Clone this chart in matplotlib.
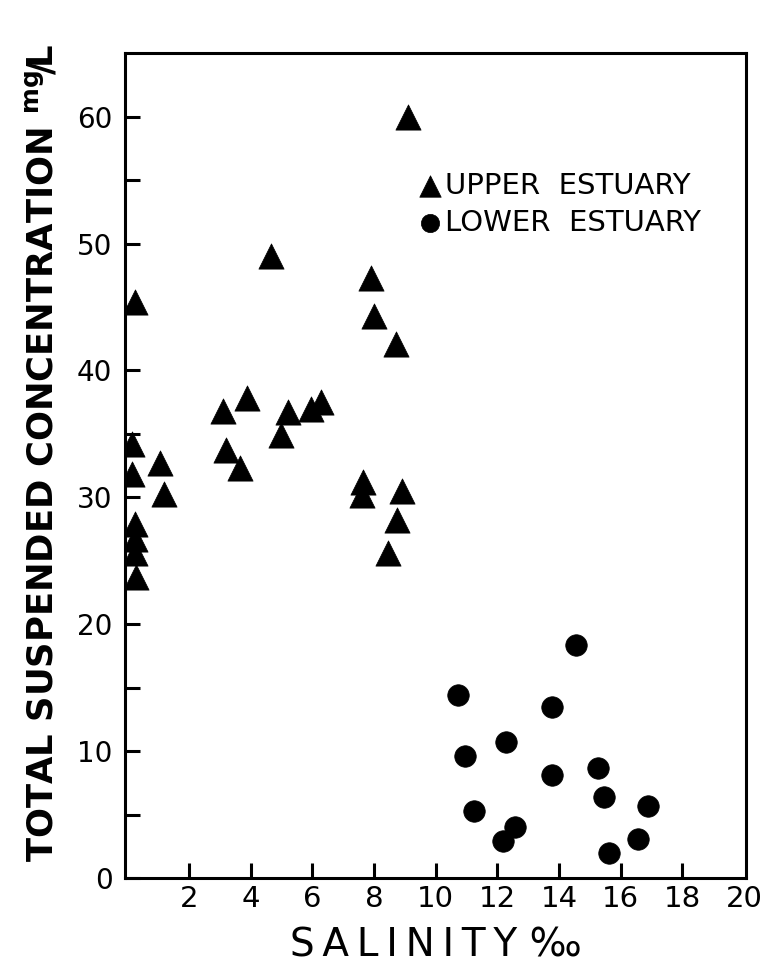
import matplotlib
matplotlib.use("Agg")
from matplotlib import pyplot as plt

# salinity (per mille) and total suspended concentration (mg/L)
upper_salinity = [9.1, 0.25, 4.65, 7.9, 8.0, 8.7, 3.1, 3.9, 5.2, 5.0, 5.95, 6.3,
                  3.2, 3.65, 0.15, 0.15, 1.05, 1.2, 0.25, 0.25, 0.25, 0.3,
                  7.65, 7.6, 8.9, 8.75, 8.45]
upper_tsc = [60.0, 45.4, 49.0, 47.3, 44.3, 42.1, 36.8, 37.8, 36.7, 34.9, 37.0, 37.5,
             33.7, 32.3, 34.2, 31.8, 32.7, 30.3, 27.9, 26.7, 25.6, 23.7,
             31.2, 30.2, 30.5, 28.2, 25.6]

lower_salinity = [10.72, 13.78, 12.27, 10.95, 13.76, 15.25, 15.47, 16.87,
                  11.25, 12.58, 12.17, 16.57, 15.62, 14.55]
lower_tsc = [14.4, 13.5, 10.7, 9.6, 8.1, 8.7, 6.4, 5.7,
             5.3, 4.0, 2.9, 3.1, 2.0, 18.4]

y_ticks = [0, 10, 20, 30, 40, 50, 60]
y_minor = [5, 15, 25, 35, 45, 55]
x_ticks = [2, 4, 6, 8, 10, 12, 14, 16, 18, 20]

plt.rcParams["font.family"] = ["DejaVu Sans"]
plt.rcParams["mathtext.default"] = "regular"

fig = plt.figure(figsize=(7.70, 9.67), dpi=100)
ax = fig.add_axes([0.1623, 0.092, 0.8065, 0.853])

ax.scatter(upper_salinity, upper_tsc, marker="^", s=330, c="black",
           edgecolors="black", linewidths=0.5, zorder=3, label="UPPER  ESTUARY")
ax.scatter(lower_salinity, lower_tsc, marker="o", s=240, c="black",
           edgecolors="black", linewidths=0.5, zorder=3, label="LOWER  ESTUARY")

ax.set_xlim(-0.07, 20.06)
ax.set_ylim(0, 65)

ax.set_yticks(y_ticks)
ax.set_yticks(y_minor, minor=True)
ax.set_xticks(x_ticks)
ax.xaxis.get_major_ticks()[-1].tick1line.set_visible(False)
ax.tick_params(axis="both", which="both", direction="in", length=11, width=2.2)
ax.tick_params(axis="y", which="major", labelsize=20, pad=9)
ax.tick_params(axis="x", which="major", labelsize=21, pad=5)

for s in ax.spines.values():
    s.set_linewidth(2.2)

# thin spaces between letters imitate the wide stencil lettering
ax.set_xlabel("\u2009".join("SALINITY") + " ‰", fontsize=28, labelpad=10)
ax.set_ylabel(r"TOTAL SUSPENDED CONCENTRATION $^{mg}\!/\!$L", fontsize=25.5,
              fontweight="bold")
ax.yaxis.set_label_coords(-0.105, 0.515)

ax.legend(loc="upper left", bbox_to_anchor=(0.468, 0.856), frameon=False,
          fontsize=21, handletextpad=0.0, labelspacing=0.3, borderaxespad=0,
          borderpad=0, markerscale=0.85, handlelength=1.0)

fig.savefig("out.png", dpi=100)
